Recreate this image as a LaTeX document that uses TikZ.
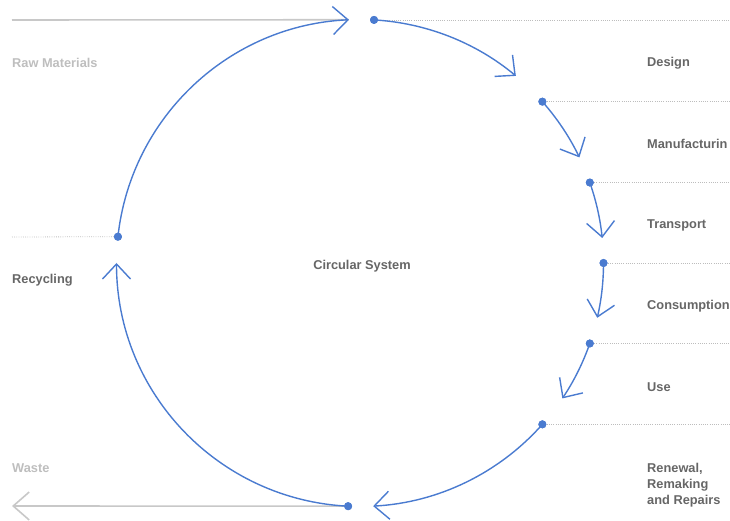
\documentclass[tikz,border=0pt]{standalone}
\usepackage{fontspec}
\setmainfont{Liberation Sans}
\usetikzlibrary{arrows.meta,calc}
\definecolor{blu}{HTML}{4A7BD0}
\definecolor{lgray}{HTML}{C8C8C8}
\definecolor{dgray}{HTML}{BDBDBD}
\definecolor{txt}{HTML}{666666}
\definecolor{ltxt}{HTML}{BEBEBE}
\tikzset{
  dot/.style={circle,fill=blu,inner sep=0pt,minimum size=8pt},
  flow/.style={blu,line width=1.4pt,-{Straight Barb[length=15pt,width=28pt,line width=1.4pt]}},
  gline/.style={lgray,line width=1.6pt},
  dotline/.style={dgray,line width=0.8pt,dash pattern=on 0.8pt off 1.4pt},
  lbl/.style={anchor=west,inner sep=0pt,text=txt,font=\bfseries\fontsize{12.8}{16}\selectfont,align=left},
  llbl/.style={lbl,text=ltxt}
}
\begin{document}
\begin{tikzpicture}[x=1pt,y=1pt]
\useasboundingbox (0,0) rectangle (730,521);
\clip (0,0) rectangle (730,521);
\coordinate (C) at (360,258);
\def\R{243.5}
% dots
\node[dot] (d0) at ($(C)+(86.7:\R)$) {};
\node[dot] (d1) at ($(C)+(41.5:\R)$) {};
\node[dot] (d2) at ($(C)+(19.3:\R)$) {};
\node[dot] (d3) at ($(C)+(0:\R)$) {};
\node[dot] (d4) at ($(C)+(-19.3:\R)$) {};
\node[dot] (d5) at ($(C)+(-41.5:\R)$) {};
\node[dot] (d6) at ($(C)+(267.2:\R)$) {};
\node[dot] (d7) at ($(C)+(173.8:\R)$) {};
% outside coordinates
\coordinate (rawL) at (12,501);
\coordinate (rawR) at ($(C)+(92.6:\R)$);
\coordinate (wasteL) at (12,15);
\coordinate (recL) at (12,284);
% gray lines
\draw[gline] (rawL) -- (rawR);
\draw[gline,-{Straight Barb[length=16pt,width=28pt,line width=1.6pt]}] (d6.center) -- (wasteL);
% dotted lines
\foreach \n in {d0,d1,d2,d3,d4,d5}{
  \draw[dotline] (\n.center) -- (\n.center -| 735,0);
}
\draw[dotline] (recL) -- (d7.center);
% arcs
\draw[flow] (d0.center) arc[start angle=86.7,end angle=50.2,radius=\R];
\draw[flow] (d1.center) arc[start angle=41.5,end angle=25.7,radius=\R];
\draw[flow] (d2.center) arc[start angle=19.3,end angle=5.9,radius=\R];
\draw[flow] (d3.center) arc[start angle=0,end angle=-13,radius=\R];
\draw[flow] (d4.center) arc[start angle=-19.3,end angle=-33.8,radius=\R];
\draw[flow] (d5.center) arc[start angle=-41.5,end angle=-86.9,radius=\R];
\draw[flow] (d6.center) arc[start angle=267.2,end angle=180,radius=\R];
\draw[flow] (d7.center) arc[start angle=173.8,end angle=92.6,radius=\R];
% re-draw dots on top
\foreach \n in {d0,d1,d2,d3,d4,d5,d6,d7}{\fill[blu] (\n) circle[radius=4pt];}
% labels
\node[lbl] (tDesign) at (647,458) {Design};
\node[lbl] (tManu) at (647,377) {Manufacturin};
\node[lbl] (tTrans) at (647,296) {Transport};
\node[lbl] (tCons) at (647,215) {Consumption};
\node[lbl] (tUse) at (647,134) {Use};
\node[lbl] (tRen) at (647,36) {Renewal,\\Remaking\\and Repairs};
\node[llbl] (tRaw) at (12,458) {Raw Materials};
\node[lbl] (tRec) at (12,241) {Recycling};
\node[llbl] (tWaste) at (12,53) {Waste};
\node[lbl,anchor=center] (tCirc) at (362,255) {Circular System};
\end{tikzpicture}
\end{document}
